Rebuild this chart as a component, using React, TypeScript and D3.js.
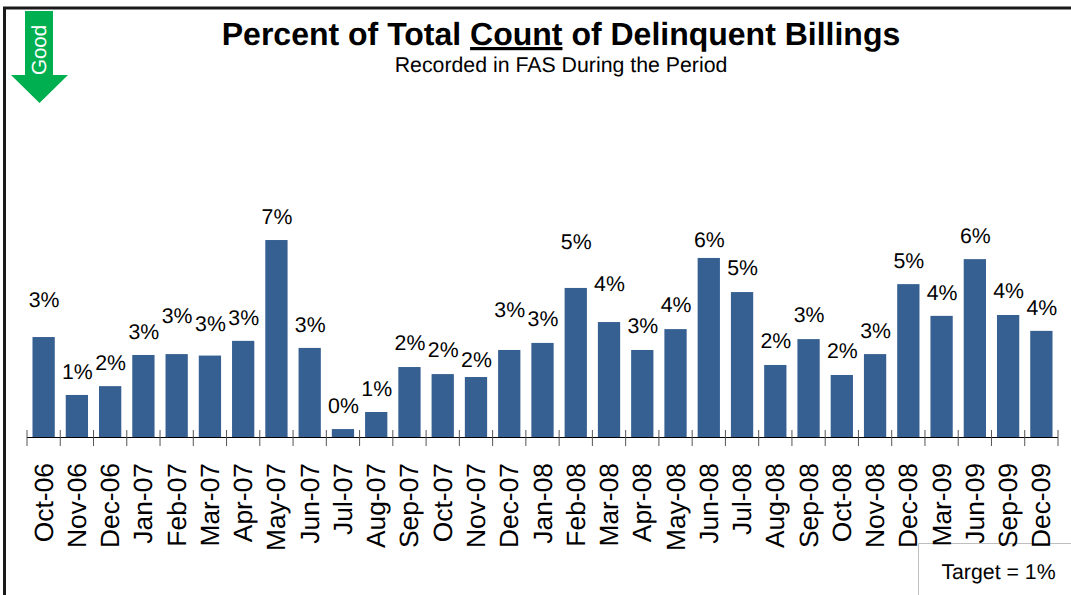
import * as d3 from "d3";

const WIDTH = 1071;
const HEIGHT = 595;
const FONT = "'Liberation Sans', Arial, sans-serif";
const BASE_Y = 437;
const BAR_COLOR = "#376092";
const GOOD_COLOR = "#00B050";

const months = [
  "Oct-06", "Nov-06", "Dec-06", "Jan-07", "Feb-07", "Mar-07", "Apr-07", "May-07",
  "Jun-07", "Jul-07", "Aug-07", "Sep-07", "Oct-07", "Nov-07", "Dec-07", "Jan-08",
  "Feb-08", "Mar-08", "Apr-08", "May-08", "Jun-08", "Jul-08", "Aug-08", "Sep-08",
  "Oct-08", "Nov-08", "Dec-08", "Mar-09", "Jun-09", "Sep-09", "Dec-09",
];

// percent of delinquent billings
const delinquentPct = [
  3.4, 1.43, 1.73, 2.79, 2.82, 2.77, 3.27, 6.7,
  3.03, 0.27, 0.85, 2.38, 2.14, 2.04, 2.96, 3.2,
  5.07, 3.91, 2.96, 3.67, 6.09, 4.93, 2.45, 3.33,
  2.11, 2.82, 5.2, 4.12, 6.05, 4.15, 3.61,
];

// the labels were hand placed in the original, so how far each one sits above its bar
const labelLift = [
  37, 23, 23, 23, 38, 32, 23, 23,
  23, 23, 23, 24, 24, 17, 40, 24,
  46, 38, 24, 24, 18, 24, 24, 24,
  24, 23, 23, 23, 23, 24, 23,
];

const App = () => {
  const xScale = d3.scaleBand().domain(months).range([27, 1058]).paddingInner(0.33).paddingOuter(0.165);
  const yScale = d3.scaleLinear().domain([0, 10]).range([BASE_Y, 143]);
  const step = xScale.step();
  const tickEdges = d3.range(months.length + 1).map((i) => 27 + i * step);

  return (
    <svg
      width={WIDTH}
      height={HEIGHT}
      style={{ position: "absolute", left: 0, top: 0, background: "#fff" }}
      fontFamily={FONT}
      textRendering="geometricPrecision"
    >
      {/* outer frame, cut by the window on the right and bottom */}
      <path d={`M4.5 ${HEIGHT} V8 H${WIDTH}`} fill="none" stroke="#1a1a1a" strokeWidth={3} />

      {/* good direction arrow */}
      <path d="M25 11 H53 V75 H68 L39.5 103 L11 75 H25 Z" fill={GOOD_COLOR} />
      <text
        transform="translate(46,75) rotate(-90)"
        fontSize={20.5}
        fill="#fff"
      >
        Good
      </text>

      <text x={561} y={45} textAnchor="middle" fontSize={32} fontWeight="bold">
        Percent of Total <tspan textDecoration="underline">Count</tspan> of Delinquent Billings
      </text>
      <text x={561} y={72} textAnchor="middle" fontSize={21.3}>
        Recorded in FAS During the Period
      </text>

      {/* target box sits behind the month labels */}
      <path d={`M918.5 ${HEIGHT} V543.5 H${WIDTH}`} fill="none" stroke="#bfbfbf" strokeWidth={1} />
      <text x={998.5} y={579} textAnchor="middle" fontSize={21.3}>
        Target = 1%
      </text>

      {months.map((m, i) => {
        const x = xScale(m) as number;
        const top = yScale(delinquentPct[i]);
        const cx = x + xScale.bandwidth() / 2;
        return (
          <g key={m}>
            <rect x={x} y={top} width={xScale.bandwidth()} height={BASE_Y - top} fill={BAR_COLOR} />
            <text x={cx + 0.5} y={top - labelLift[i] + 7} textAnchor="middle" fontSize={21.3}>
              {d3.format(".0f")(delinquentPct[i])}%
            </text>
            <text
              transform={`translate(${cx + 9},463) rotate(-90)`}
              textAnchor="end"
              fontSize={26.4}
            >
              {m}
            </text>
          </g>
        );
      })}

      {/* axis line with ticks between the bars */}
      <line x1={27} x2={1058} y1={BASE_Y + 0.5} y2={BASE_Y + 0.5} stroke="#000" strokeWidth={1} />
      {tickEdges.map((t, i) => (
        <line key={i} x1={t} x2={t} y1={430} y2={446} stroke="#555" strokeWidth={1} />
      ))}
    </svg>
  );
};

export default App;
